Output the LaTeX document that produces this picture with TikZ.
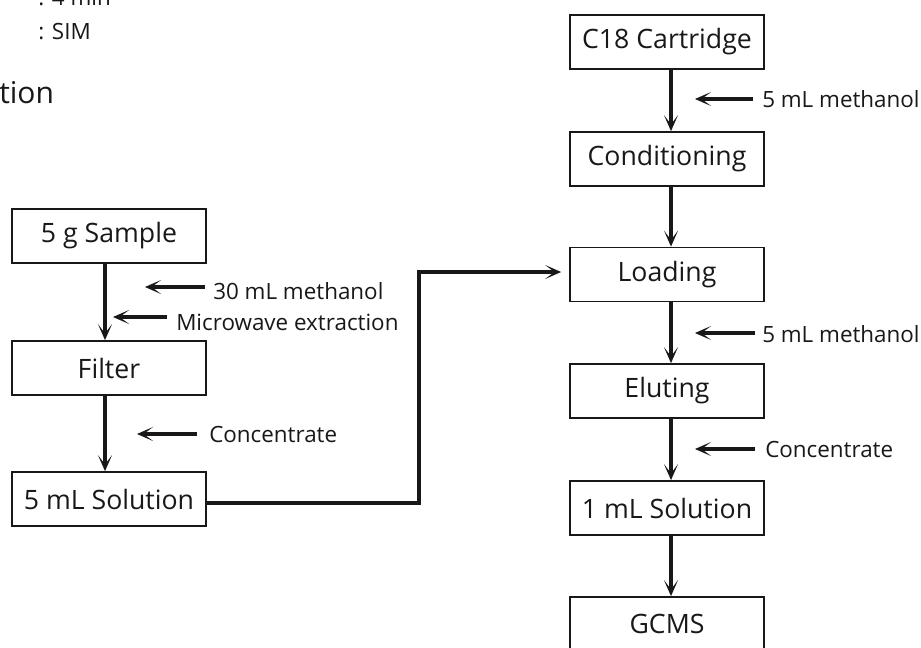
\documentclass[tikz,border=0pt]{standalone}
\usepackage{fontspec}
\setmainfont{Open Sans}
\usetikzlibrary{arrows.meta,calc}
\definecolor{ink}{HTML}{1A1718}
\begin{document}
\begin{tikzpicture}[x=0.75pt,y=-0.75pt,
  box/.style={draw=ink, line width=1.3pt, minimum width=145.5pt, minimum height=40.5pt,
    inner sep=0pt, text=ink, font=\fontsize{20}{22}\selectfont},
  lab/.style={text=ink, inner sep=0pt, anchor=base west, font=\fontsize{16.8}{19}\selectfont},
  flow/.style={draw=ink, line width=2.3pt, -{Stealth[length=12pt,width=10.5pt,inset=7pt]}},
]
\useasboundingbox (0,0) rectangle (921,647);

% header fragments
\node[lab] (tmin) at (38,5) {: 4 min};
\node[lab] (tsim) at (38,39) {: SIM};
\node[lab, font=\fontsize{22.5}{26}\selectfont] (ttl) at (-1,103) {tion};

% extraction column
\node[box] (sample) at (109,236) {5 g Sample};
\node[box] (filter) at (109,368) {Filter};
\node[box] (sol5)   at (109,499) {5 mL Solution};

% clean-up column
\node[box] (c18)  at (667,42)    {C18 Cartridge};
\node[box] (cond) at (667,159)   {Conditioning};
\node[box] (load) at (667,274.5) {Loading};
\node[box] (elut) at (667,391)   {Eluting};
\node[box] (sol1) at (667,508)   {1 mL Solution};
\node[box] (gcms) at (667,624)   {GCMS};

% main flow lines
\coordinate (lx) at (105,0);
\coordinate (rx) at (671,0);
\draw[flow] (sample.south -| lx) -- (filter.north -| lx);
\draw[flow] (filter.south -| lx) -- (sol5.north -| lx);
\draw[flow] (c18.south -| rx)  -- (cond.north -| rx);
\draw[flow] (cond.south -| rx) -- (load.north -| rx);
\draw[flow] (load.south -| rx) -- (elut.north -| rx);
\draw[flow] (elut.south -| rx) -- (sol1.north -| rx);
\draw[flow] (sol1.south -| rx) -- (gcms.north -| rx);

% transfer to the cartridge
\coordinate (bend) at (419,272);
\draw[flow, shorten >=6pt] ($(sol5.east)+(0,4)$) -| (bend) -- (load.west |- bend);

% additions
\node[lab] (m30)   at (213,299) {30 mL methanol};
\node[lab] (mw)    at (176,330) {Microwave extraction};
\node[lab] (conc1) at (209,442) {Concentrate};
\node[lab] (m5a)   at (762,107) {5 mL methanol};
\node[lab] (m5b)   at (762,342) {5 mL methanol};
\node[lab] (conc2) at (765,457) {Concentrate};

\coordinate (a1s) at (205,287); \coordinate (a1e) at (145,287);
\coordinate (a2s) at (167,317); \coordinate (a2e) at (113,317);
\coordinate (a3s) at (197,434); \coordinate (a3e) at (137,434);
\coordinate (a4s) at (753,99);  \coordinate (a4e) at (695,99);
\coordinate (a5s) at (755,333); \coordinate (a5e) at (695,333);
\coordinate (a6s) at (755,449); \coordinate (a6e) at (695,449);
\draw[flow] (a1s) -- (a1e);
\draw[flow] (a2s) -- (a2e);
\draw[flow] (a3s) -- (a3e);
\draw[flow] (a4s) -- (a4e);
\draw[flow] (a5s) -- (a5e);
\draw[flow] (a6s) -- (a6e);
\end{tikzpicture}
\end{document}
